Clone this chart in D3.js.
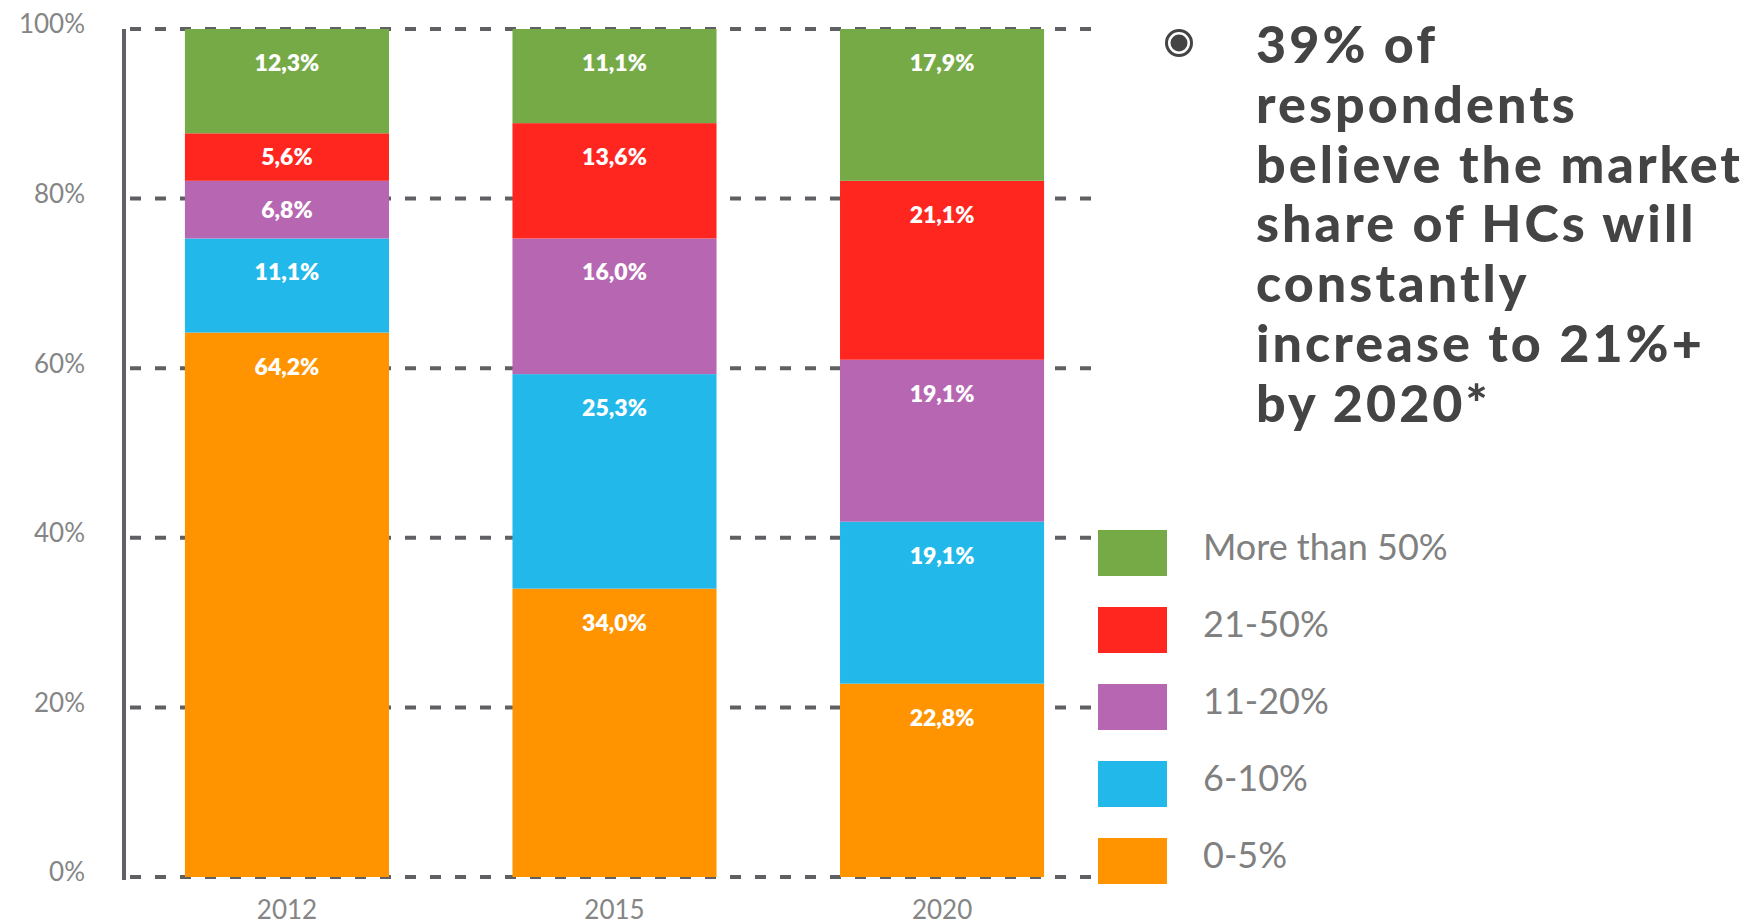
<!DOCTYPE html>
<html>
<head>
<meta charset="utf-8">
<script src="https://cdn.jsdelivr.net/npm/d3@7"></script>
<style>
  body { margin: 0; background: #fff; }
  svg { display: block; font-family: Lato, "Open Sans", sans-serif; }
</style>
</head>
<body>
<svg id="chart" width="1756" height="924"></svg>
<script>
// categories along x
const years = ["2012", "2015", "2020"];
// series, bottom to top of each bar
const seriesKeys = ["0-5%", "6-10%", "11-20%", "21-50%", "More than 50%"];
const seriesColors = ["#ff9400", "#22b9ea", "#b766b2", "#ff2620", "#76aa47"];
// values in percent, per series
const share0to5 = [64.2, 34.0, 22.8];
const share6to10 = [11.1, 25.3, 19.1];
const share11to20 = [6.8, 16.0, 19.1];
const share21to50 = [5.6, 13.6, 21.1];
const shareOver50 = [12.3, 11.1, 17.9];
const yTicks = [0, 20, 40, 60, 80, 100];
const bulletLines = ["39% of", "respondents", "believe the market", "share of HCs will",
  "constantly", "increase to 21%+", "by 2020*"];

const seriesValues = [share0to5, share6to10, share11to20, share21to50, shareOver50];
const rows = years.map((yr, i) => {
  const r = { year: yr };
  seriesKeys.forEach((k, j) => { r[k] = seriesValues[j][i]; });
  return r;
});

const svg = d3.select("#chart");
const margin = { left: 124, top: 29, bottom: 877 };
const gridRight = 1092;

const x = d3.scaleBand().domain(years).range([124, 1105]).paddingInner(0.377).paddingOuter(0.186);
const y = d3.scaleLinear().domain([0, 100]).range([margin.bottom, margin.top]);
const color = d3.scaleOrdinal().domain(seriesKeys).range(seriesColors);

// dashed gridlines (behind bars)
svg.append("g").selectAll("line").data(yTicks).join("line")
  .attr("x1", margin.left + 6).attr("x2", gridRight)
  .attr("y1", d => y(d)).attr("y2", d => y(d))
  .attr("stroke", "#5f6064").attr("stroke-width", 4)
  .attr("stroke-dasharray", "11,14");

// stacked bars
const stacked = d3.stack().keys(seriesKeys)(rows);
const layers = svg.append("g").selectAll("g").data(stacked).join("g")
  .attr("fill", d => color(d.key));
layers.selectAll("rect").data(d => d).join("rect")
  .attr("x", d => x(d.data.year))
  .attr("width", x.bandwidth())
  .attr("y", d => y(d[1]))
  .attr("height", d => y(d[0]) - y(d[1]));

// value labels
layers.selectAll("text").data(d => d.map(v => ({ v: v, key: d.key }))).join("text")
  .attr("x", d => x(d.v.data.year) + x.bandwidth() / 2)
  .attr("y", d => {
    const top = y(d.v[1]);
    const h = y(d.v[0]) - top;
    return top + Math.min(42, h / 2 + 8);
  })
  .attr("text-anchor", "middle")
  .attr("fill", "#fff")
  .attr("font-size", 23)
  .attr("font-weight", 800)
  .text(d => d.v.data[d.key].toFixed(1).replace(".", ",") + "%");

// y axis line
svg.append("line")
  .attr("x1", margin.left).attr("x2", margin.left)
  .attr("y1", margin.top).attr("y2", margin.bottom + 3)
  .attr("stroke", "#626266").attr("stroke-width", 4);

// y axis labels
const yAxis = svg.append("g")
  .attr("transform", `translate(${margin.left},0)`)
  .call(d3.axisLeft(y).tickValues(yTicks).tickSize(0).tickPadding(39).tickFormat(d => d + "%"));
yAxis.select(".domain").remove();
yAxis.selectAll("text")
  .attr("dy", "0.15em")
  .attr("fill", "#858585")
  .attr("font-size", 26)
  .attr("font-family", "Lato, sans-serif");

// x axis labels
const xAxis = svg.append("g")
  .attr("transform", `translate(0,${margin.bottom})`)
  .call(d3.axisBottom(x).tickSize(0).tickPadding(24));
xAxis.select(".domain").remove();
xAxis.selectAll("text")
  .attr("fill", "#858585")
  .attr("font-size", 26)
  .attr("font-family", "Lato, sans-serif");

// legend, top entry is the top series
const legend = svg.append("g").selectAll("g").data(seriesKeys.slice().reverse()).join("g")
  .attr("transform", (d, i) => `translate(1098,${530 + i * 77})`);
legend.append("rect")
  .attr("width", 69).attr("height", 46)
  .attr("fill", d => color(d));
legend.append("text")
  .attr("x", 105).attr("y", 30)
  .attr("fill", "#808080")
  .attr("font-size", 36)
  .text(d => d);

// bullet note
const note = svg.append("g");
note.append("circle").attr("cx", 1179).attr("cy", 43).attr("r", 12.5)
  .attr("fill", "none").attr("stroke", "#444").attr("stroke-width", 3);
note.append("circle").attr("cx", 1179).attr("cy", 43).attr("r", 8.5).attr("fill", "#444");
const noteText = note.append("g").selectAll("text").data(bulletLines).join("text")
  .attr("x", 1256)
  .attr("y", (d, i) => 63 + i * 59.8)
  .attr("fill", "#444")
  .attr("font-size", 52)
  .attr("font-weight", 900)
  .text(d => d);
// widen the letters so the longest line spans like the original
const longest = noteText.filter(d => d === "believe the market").node();
const spacing = Math.max(0, (484 - longest.getComputedTextLength()) / 17);
noteText.attr("letter-spacing", spacing);
</script>
</body>
</html>
